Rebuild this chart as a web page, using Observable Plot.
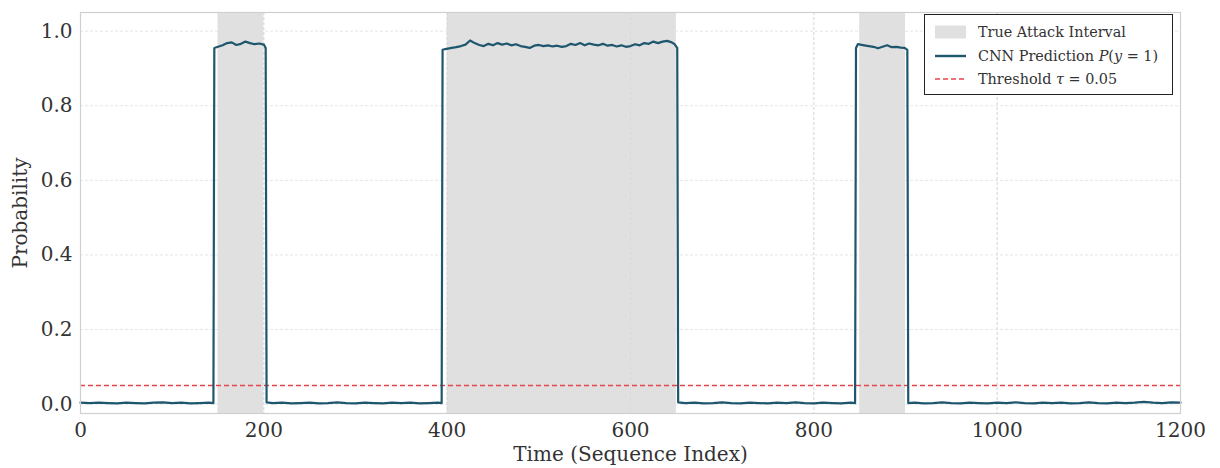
<!DOCTYPE html>
<html>
<head>
<meta charset="utf-8">
<script src="https://cdn.jsdelivr.net/npm/d3@7"></script>
<script src="https://cdn.jsdelivr.net/npm/@observablehq/plot@0.6"></script>
<style>
  html, body { margin: 0; padding: 0; background: #fff; }
  #wrap { position: relative; width: 1220px; height: 468px; font-family: "DejaVu Serif", serif; }
  #legend { position: absolute; left: 924px; top: 14px; width: 249px; height: 81px; border: 1.3px solid #222; background: rgba(255,255,255,0.92); box-sizing: border-box; font-size: 14.4px; color: #333; }
  .row { position: absolute; left: 0; height: 20px; display: flex; align-items: center; white-space: nowrap; }
  .sw { width: 31px; height: 14px; margin-left: 10px; margin-right: 12px; display: block; }
</style>
</head>
<body>
<div id="wrap">
  <div id="chart"></div>
  <div id="legend">
    <div class="row" style="top:7px"><svg class="sw"><rect x="0" y="0.5" width="31" height="13" fill="#e0e0e0"/></svg><span>True Attack Interval</span></div>
    <div class="row" style="top:31px"><svg class="sw"><line x1="0" x2="31" y1="7" y2="7" stroke="#1e566e" stroke-width="2.4"/></svg><span>CNN Prediction <i>P</i>(<i>y</i> = 1)</span></div>
    <div class="row" style="top:54px"><svg class="sw"><line x1="0" x2="31" y1="7" y2="7" stroke="#e8434a" stroke-width="1.6" stroke-dasharray="5,3"/></svg><span>Threshold <i>τ</i> = 0.05</span></div>
  </div>
</div>
<script>
// Attack intervals (sequence index)
const attackStart = [150, 400, 850];
const attackEnd   = [200, 650, 900];

// CNN prediction samples
const timeIdx = [
  0,10,20,30,40,50,60,70,80,90,100,110,120,130,140,145,
  146,150,155,160,165,170,175,180,185,190,195,200,202,
  203,210,220,230,240,250,260,270,280,290,300,310,320,330,340,350,360,370,380,390,394,
  395,398,405,410,415,420,425,430,435,440,445,450,455,460,465,470,475,480,485,490,495,
  500,505,510,515,520,525,530,535,540,545,550,555,560,565,570,575,580,585,590,595,
  600,605,610,615,620,625,630,635,640,645,648,651,
  652,660,670,680,690,700,710,720,730,740,750,760,770,780,790,800,810,820,830,840,845,
  846,848,855,860,865,870,875,880,885,890,895,899,902,
  903,910,920,930,940,950,960,970,980,990,1000,1010,1020,1030,1040,1050,1060,1070,1080,1090,1100,1110,1120,1130,1140,1150,1160,1170,1180,1190,1200
];
const probVal = [
  0.004,0.003,0.004,0.003,0.002,0.004,0.003,0.002,0.004,0.005,0.003,0.004,0.002,0.003,0.004,0.003,
  0.955,0.958,0.962,0.968,0.970,0.963,0.966,0.972,0.968,0.965,0.967,0.964,0.955,
  0.005,0.003,0.004,0.002,0.003,0.004,0.002,0.003,0.005,0.003,0.002,0.004,0.003,0.002,0.004,0.003,0.004,0.002,0.003,0.004,0.003,
  0.950,0.952,0.955,0.957,0.960,0.964,0.975,0.968,0.963,0.960,0.966,0.962,0.968,0.964,0.967,0.962,0.965,0.960,0.958,0.955,0.961,
  0.963,0.960,0.962,0.959,0.961,0.958,0.960,0.966,0.963,0.968,0.962,0.967,0.964,0.962,0.966,0.961,0.963,0.959,0.962,0.958,
  0.960,0.965,0.962,0.968,0.966,0.972,0.968,0.972,0.974,0.970,0.965,0.955,
  0.005,0.003,0.004,0.002,0.003,0.005,0.003,0.002,0.004,0.003,0.002,0.004,0.003,0.005,0.003,0.002,0.004,0.003,0.002,0.004,0.003,
  0.955,0.965,0.962,0.960,0.958,0.954,0.958,0.962,0.957,0.958,0.956,0.955,0.950,
  0.003,0.004,0.002,0.003,0.005,0.003,0.002,0.004,0.003,0.002,0.004,0.003,0.005,0.003,0.002,0.004,0.003,0.004,0.002,0.003,0.005,0.003,0.002,0.004,0.003,0.004,0.006,0.004,0.003,0.005,0.004
];
const threshold = 0.05;
const xTicks = [0, 200, 400, 600, 800, 1000, 1200];
const yTicks = [0.0, 0.2, 0.4, 0.6, 0.8, 1.0];

const intervals = attackStart.map((s, i) => ({start: s, end: attackEnd[i]}));
const series = timeIdx.map((t, i) => ({t, p: probVal[i]}));

const chart = Plot.plot({
  width: 1220,
  height: 468,
  marginLeft: 80,
  marginRight: 40,
  marginTop: 12,
  marginBottom: 55,
  style: {fontFamily: "DejaVu Serif", fontSize: "20px", color: "#333", background: "#fff"},
  x: {domain: [0, 1200]},
  y: {domain: [-0.025, 1.05]},
  marks: [
    Plot.ruleX(xTicks, {stroke: "#e6e6e6", strokeWidth: 1, strokeDasharray: "3,2"}),
    Plot.ruleY(yTicks, {stroke: "#e6e6e6", strokeWidth: 1, strokeDasharray: "3,2"}),
    Plot.rect(intervals, {x1: "start", x2: "end", fill: "#e0e0e0"}),
    Plot.ruleX(xTicks, {stroke: "#d0d0d0", strokeWidth: 1, strokeDasharray: "3,2", strokeOpacity: 0.5}),
    Plot.ruleY([threshold], {stroke: "#e8434a", strokeWidth: 1.5, strokeDasharray: "5,3"}),
    Plot.line(series, {x: "t", y: "p", stroke: "#1e566e", strokeWidth: 2.2, curve: "linear"}),
    Plot.frame({stroke: "#cfcfcf", strokeWidth: 1.2}),
    Plot.axisX(xTicks, {tickSize: 0, tickPadding: 9, tickFormat: d => String(d), label: "Time (Sequence Index)", labelAnchor: "center", labelOffset: 47, labelArrow: "none", fontSize: 20}),
    Plot.axisY(yTicks, {tickSize: 0, tickPadding: 8, tickFormat: d => d.toFixed(1), label: "Probability", labelAnchor: "center", labelOffset: 68, labelArrow: "none", fontSize: 20})
  ]
});
document.getElementById("chart").appendChild(chart);
</script>
</body>
</html>
